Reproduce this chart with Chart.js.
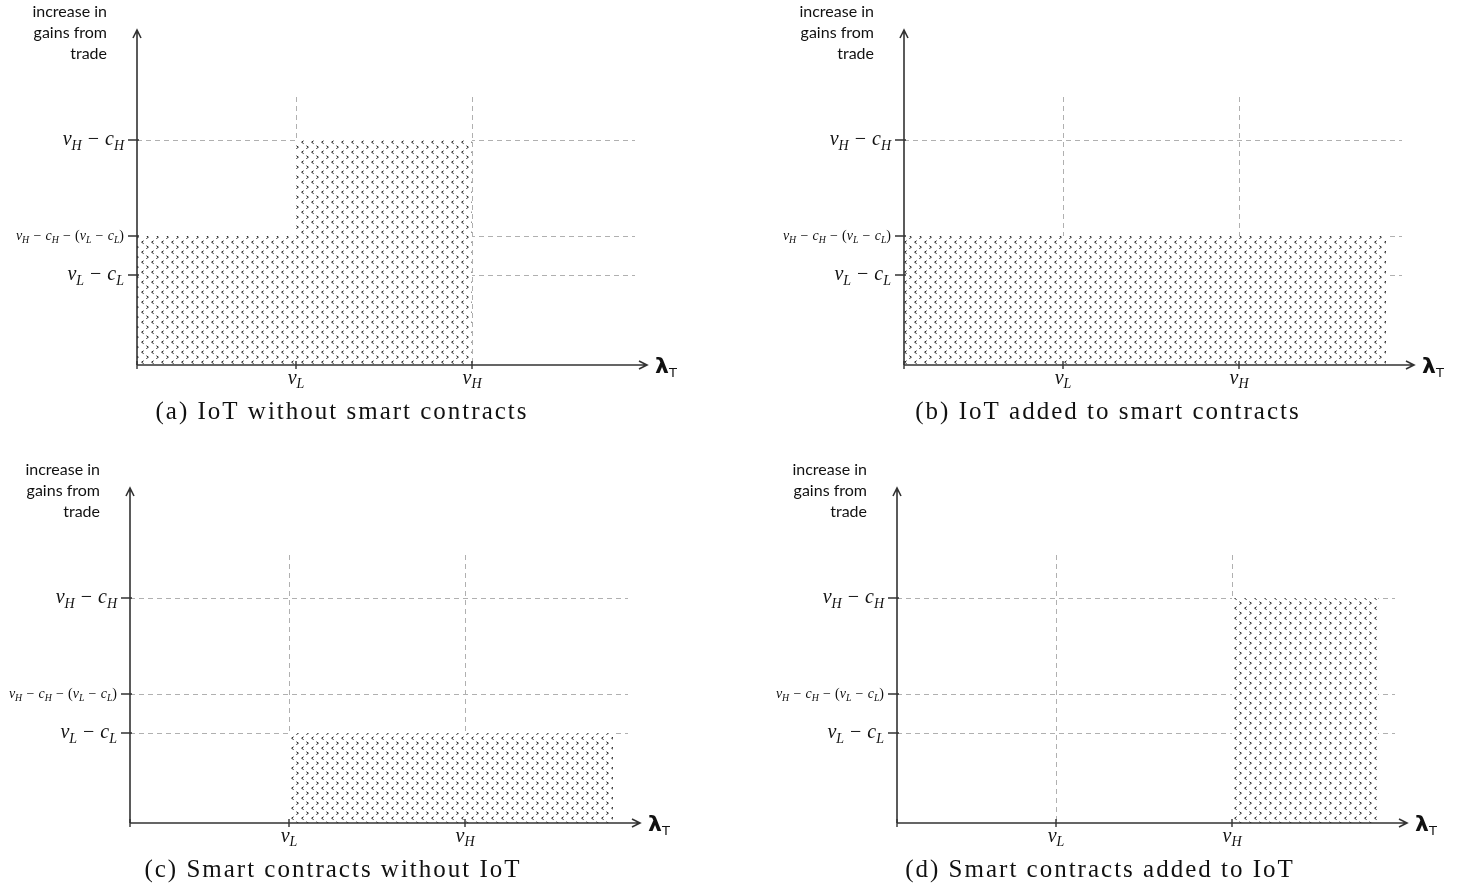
<!DOCTYPE html>
<html>
<head>
<meta charset="utf-8">
<script src="https://cdn.jsdelivr.net/npm/chart.js@4.4.1/dist/chart.umd.min.js"></script>
<style>
  body { margin: 0; background: #fff; width: 1467px; height: 892px; overflow: hidden; }
  canvas { position: absolute; }
</style>
</head>
<body>
<canvas id="pa" width="733" height="446" style="left:0;top:0"></canvas>
<canvas id="pb" width="734" height="446" style="left:733px;top:0"></canvas>
<canvas id="pc" width="733" height="446" style="left:0;top:446px"></canvas>
<canvas id="pd" width="734" height="446" style="left:733px;top:446px"></canvas>
<script>
// thresholds on the λ_T axis
const thresholdLabels = ["v_L", "v_H"];
const thresholdValues = [1.59, 3.35];

// levels on the gains axis
const gainLabels = ["v_H − c_H", "v_H − c_H − (v_L − c_L)", "v_L − c_L"];
const gainValues = [2.25, 1.29, 0.90];

// shaded step functions, [λ_T, gain] where each step starts
const stepsA = [[0, 1.29], [1.59, 2.25], [3.35, 0]];
const stepsB = [[0, 1.29], [4.82, 0]];
const stepsC = [[1.59, 0.90], [4.83, 0]];
const stepsD = [[3.35, 2.25], [4.81, 0]];

const captions = [
  "(a) IoT without smart contracts",
  "(b) IoT added to smart contracts",
  "(c) Smart contracts without IoT",
  "(d) Smart contracts added to IoT"
];
const yTitle = ["increase in", "gains from", "trade"];

// axis extents (data units)
const X_MAX = 5.2, Y_MAX = 3.5;
const AXIS_X_END = 5.1, AXIS_Y_END = 3.35;
const GRID_TOP = 2.68, GRID_RIGHT = 4.98;

function hatchPattern() {
  const c = document.createElement("canvas");
  c.width = 10; c.height = 10;
  const g = c.getContext("2d");
  g.fillStyle = "#fff";
  g.fillRect(0, 0, 10, 10);
  g.strokeStyle = "#222";
  g.lineWidth = 1;
  g.beginPath(); g.moveTo(3.6, 0.8); g.lineTo(1.6, 2.2); g.lineTo(3.6, 3.6); g.stroke();
  g.beginPath(); g.moveTo(6.4, 5.8); g.lineTo(8.4, 7.2); g.lineTo(6.4, 8.6); g.stroke();
  return g.createPattern(c, "repeat");
}

function drawMath(ctx, str, x, y, size, align) {
  const parts = [];
  for (let i = 0; i < str.length; i++) {
    const ch = str[i];
    if (ch === "_") { parts.push({ t: str[++i], sub: true, it: true }); continue; }
    parts.push({ t: ch, sub: false, it: /[a-zA-Z]/.test(ch) });
  }
  const fontOf = p => (p.it ? "italic " : "") + (p.sub ? size * 0.7 : size).toFixed(1) + 'px "Liberation Serif"';
  let w = 0;
  parts.forEach(p => {
    ctx.font = fontOf(p);
    p.w = p.t === " " ? size * 0.3 : ctx.measureText(p.t).width;
    w += p.w;
  });
  let cx = align === "right" ? x - w : align === "center" ? x - w / 2 : x;
  ctx.textAlign = "left";
  ctx.textBaseline = "alphabetic";
  parts.forEach(p => {
    ctx.font = fontOf(p);
    if (p.t !== " ") ctx.fillText(p.t, cx, y + (p.sub ? size * 0.22 : 0));
    cx += p.w;
  });
}

const econAxes = {
  id: "econAxes",
  beforeDatasetsDraw(chart) {
    const { ctx, scales: { x, y } } = chart;
    ctx.save();
    ctx.strokeStyle = "#b0b0b0";
    ctx.lineWidth = 1;
    ctx.setLineDash([5, 4]);
    thresholdValues.forEach(v => {
      const px = Math.round(x.getPixelForValue(v)) + 0.5;
      ctx.beginPath();
      ctx.moveTo(px, y.getPixelForValue(GRID_TOP));
      ctx.lineTo(px, y.getPixelForValue(0));
      ctx.stroke();
    });
    gainValues.forEach(v => {
      const py = Math.round(y.getPixelForValue(v)) + 0.5;
      ctx.beginPath();
      ctx.moveTo(x.getPixelForValue(0), py);
      ctx.lineTo(x.getPixelForValue(GRID_RIGHT), py);
      ctx.stroke();
    });
    ctx.restore();
  },
  afterDatasetsDraw(chart, args, opts) {
    const { ctx, scales: { x, y } } = chart;
    const x0 = x.getPixelForValue(0), y0 = y.getPixelForValue(0);
    const xe = x.getPixelForValue(AXIS_X_END), ye = y.getPixelForValue(AXIS_Y_END);
    ctx.save();
    ctx.strokeStyle = "#333";
    ctx.fillStyle = "#111";
    ctx.lineWidth = 1.6;
    // axes with open arrow heads
    ctx.beginPath();
    ctx.moveTo(x0, y0); ctx.lineTo(xe, y0);
    ctx.moveTo(xe - 8, y0 - 4); ctx.lineTo(xe, y0); ctx.lineTo(xe - 8, y0 + 4);
    ctx.moveTo(x0, y0); ctx.lineTo(x0, ye);
    ctx.moveTo(x0 - 4, ye + 8); ctx.lineTo(x0, ye); ctx.lineTo(x0 + 4, ye + 8);
    ctx.stroke();
    // ticks
    ctx.lineWidth = 1.4;
    ctx.beginPath();
    gainValues.forEach(v => {
      const py = y.getPixelForValue(v);
      ctx.moveTo(x0 - 9, py); ctx.lineTo(x0 + 2, py);
    });
    thresholdValues.forEach(v => {
      const px = x.getPixelForValue(v);
      ctx.moveTo(px, y0 - 4); ctx.lineTo(px, y0 + 4);
    });
    ctx.moveTo(x0, y0 - 4); ctx.lineTo(x0, y0 + 4);
    ctx.stroke();
    // tick labels
    gainLabels.forEach((lab, i) => {
      const py = y.getPixelForValue(gainValues[i]);
      const size = lab.length > 12 ? 14 : 20;
      drawMath(ctx, lab, x0 - 13, py + size * 0.27, size, "right");
    });
    thresholdLabels.forEach((lab, i) => {
      drawMath(ctx, lab, x.getPixelForValue(thresholdValues[i]), y0 + 19, 20, "center");
    });
    // λ_T
    ctx.textAlign = "left";
    ctx.textBaseline = "alphabetic";
    ctx.font = 'bold 22px "DejaVu Sans"';
    ctx.fillText("λ", xe + 8, y0 + 8);
    ctx.font = '13px "DejaVu Sans"';
    ctx.fillText("T", xe + 22, y0 + 12);
    // y title
    ctx.textAlign = "right";
    ctx.textBaseline = "middle";
    ctx.font = '16px "Lato"';
    yTitle.forEach((t, i) => ctx.fillText(t, x0 - 30, y0 - 353 + i * 21));
    // caption
    ctx.textAlign = "center";
    ctx.font = '25px "Liberation Serif"';
    ctx.letterSpacing = "2px";
    ctx.fillText(opts.caption, opts.capX, y0 + 47);
    ctx.restore();
  }
};

const hatch = hatchPattern();

function makePanel(id, steps, left, top, axisX, originY, capX, caption, canvasW) {
  const padLeft = axisX - left;
  const padBottom = top + 446 - originY;
  const padTop = 446 - padBottom - 350;
  new Chart(document.getElementById(id), {
    type: "line",
    data: {
      datasets: [{
        data: steps.map(s => ({ x: s[0], y: s[1] })),
        stepped: true,
        fill: "origin",
        backgroundColor: hatch,
        borderColor: "rgba(0,0,0,0)",
        borderWidth: 0,
        pointRadius: 0
      }]
    },
    options: {
      responsive: false,
      animation: false,
      layout: { padding: { left: padLeft, right: canvasW - padLeft - 520, top: padTop, bottom: padBottom } },
      scales: {
        x: { type: "linear", min: 0, max: X_MAX, display: false },
        y: { type: "linear", min: 0, max: Y_MAX, display: false }
      },
      plugins: {
        legend: { display: false },
        tooltip: { enabled: false },
        econAxes: { caption: caption, capX: capX - left }
      }
    },
    plugins: [econAxes]
  });
}

makePanel("pa", stepsA, 0, 0, 137, 365, 342, captions[0], 733);
makePanel("pb", stepsB, 733, 0, 904, 365, 1108, captions[1], 734);
makePanel("pc", stepsC, 0, 446, 130, 823, 333, captions[2], 733);
makePanel("pd", stepsD, 733, 446, 897, 823, 1100, captions[3], 734);
</script>
</body>
</html>
